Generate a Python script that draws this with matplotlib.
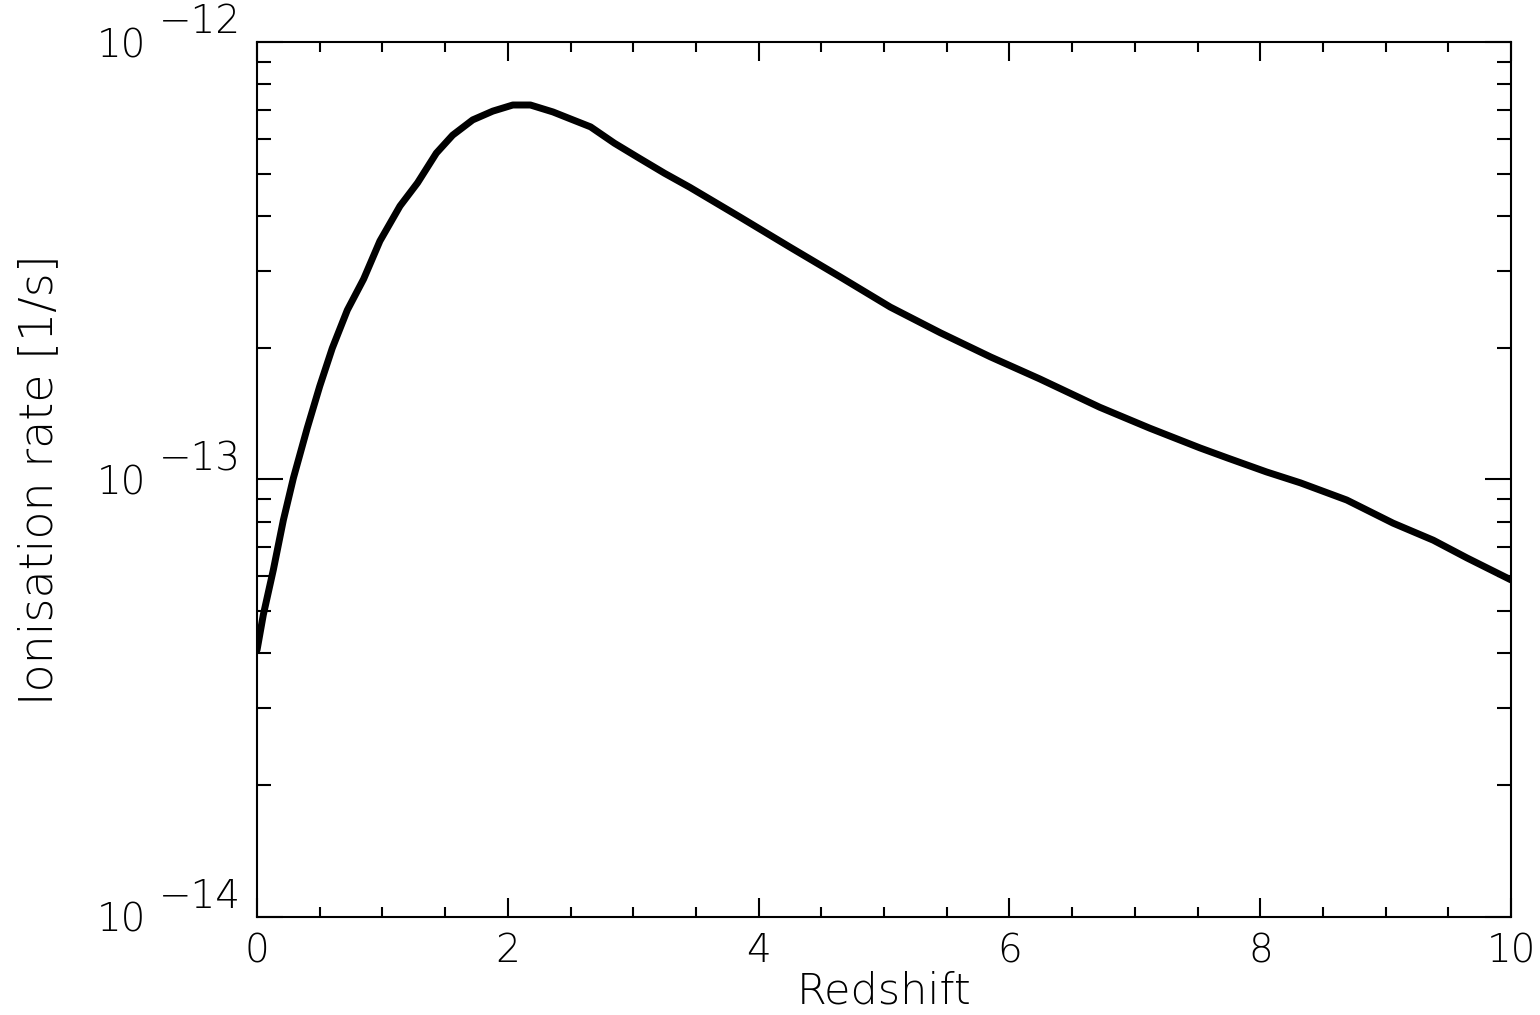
import matplotlib
matplotlib.use('Agg')
import matplotlib.pyplot as plt
from matplotlib.ticker import MultipleLocator, FixedLocator, NullFormatter
import numpy as np

# Ionisation rate vs redshift
redshift = [0.0, 0.05, 0.13, 0.21, 0.29, 0.40, 0.50, 0.60, 0.72, 0.85,
            0.98, 1.14, 1.28, 1.43, 1.56, 1.72, 1.88, 2.04, 2.18, 2.36,
            2.50, 2.66, 2.85, 3.05, 3.25, 3.45, 3.85, 4.25, 4.65, 5.05,
            5.45, 5.85, 6.24, 6.72, 7.12, 7.52, 7.74, 8.05, 8.32, 8.69,
            9.06, 9.38, 9.65, 10.0]
ion_rate = [4.07e-14, 4.90e-14, 6.21e-14, 8.07e-14, 1.007e-13, 1.309e-13,
            1.633e-13, 1.995e-13, 2.438e-13, 2.871e-13, 3.508e-13, 4.217e-13,
            4.764e-13, 5.572e-13, 6.124e-13, 6.637e-13, 6.950e-13, 7.178e-13,
            7.178e-13, 6.920e-13, 6.670e-13, 6.397e-13, 5.870e-13, 5.420e-13,
            5.010e-13, 4.656e-13, 3.981e-13, 3.396e-13, 2.904e-13, 2.477e-13,
            2.163e-13, 1.905e-13, 1.698e-13, 1.462e-13, 1.309e-13, 1.180e-13,
            1.119e-13, 1.040e-13, 9.82e-14, 8.97e-14, 7.94e-14, 7.26e-14,
            6.61e-14, 5.89e-14]

xticks = [0, 2, 4, 6, 8, 10]
ydecades = [-14, -13, -12]

XLIM = (0, 10)
YLIM = (1e-14, 1e-12)
FS = 28

plt.rcParams['font.family'] = 'DejaVu Sans'
plt.rcParams['font.weight'] = 'light'

fig = plt.figure(figsize=(15.4, 10.15), dpi=100)
ax = fig.add_axes([0.1669, 0.0968, 0.8143, 0.8618])

ax.plot(redshift, ion_rate, color='black', linewidth=5, solid_capstyle='round',
        solid_joinstyle='round')

ax.set_yscale('log')
ax.set_xlim(*XLIM)
ax.set_ylim(*YLIM)

ax.set_xticks(xticks)
ax.set_xticklabels([str(t) for t in xticks])
ax.xaxis.set_minor_locator(MultipleLocator(0.5))

yvals = [10.0 ** d for d in ydecades]
ax.yaxis.set_major_locator(FixedLocator(yvals))
ax.yaxis.set_minor_locator(FixedLocator(
    [m * v for v in yvals[:-1] for m in range(2, 10)]))
ax.yaxis.set_major_formatter(NullFormatter())
ax.yaxis.set_minor_formatter(NullFormatter())

# IDL-style "10^-13" labels: exponent as large as the base
for d, v in zip(ydecades, yvals):
    ax.annotate('10', xy=(0, v), xycoords=('axes fraction', 'data'),
                xytext=(-111, -15), textcoords='offset pixels',
                ha='right', va='baseline', fontsize=FS, fontweight='light')
    ax.annotate('\u2212%d' % abs(d), xy=(0, v), xycoords=('axes fraction', 'data'),
                xytext=(-16, 9), textcoords='offset pixels',
                ha='right', va='baseline', fontsize=FS, fontweight='light')

ax.tick_params(axis='both', which='both', direction='in', top=True, right=True,
               width=1.5, colors='black')
ax.tick_params(axis='x', which='major', length=14, pad=11, labelsize=FS)
ax.tick_params(axis='x', which='minor', length=7)
ax.tick_params(axis='y', which='major', length=19)
ax.tick_params(axis='y', which='minor', length=10)

for s in ax.spines.values():
    s.set_linewidth(1.5)

ax.set_xlabel('Redshift', fontsize=31, fontweight='light', labelpad=0)
ax.set_ylabel('Ionisation rate [1/s]', fontsize=33, fontweight='light')
ax.yaxis.set_label_coords(-0.156, 0.5)

fig.savefig('out.png', dpi=100, facecolor='white')
